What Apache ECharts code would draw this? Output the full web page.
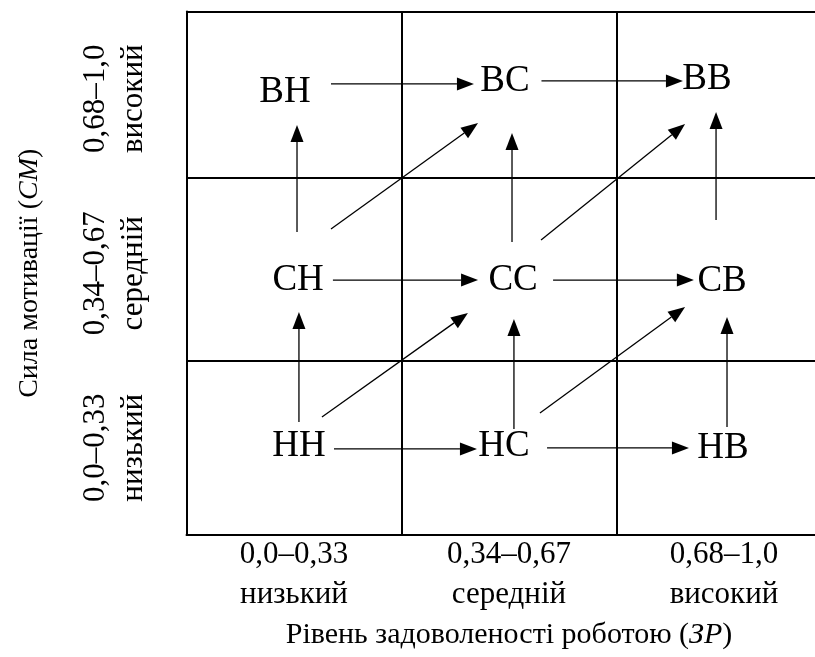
<!DOCTYPE html>
<html>
<head>
<meta charset="utf-8">
<script src="https://cdn.jsdelivr.net/npm/echarts@6/dist/echarts.min.js"></script>
<style>
html,body{margin:0;padding:0;background:#fff;}
#chart{width:815px;height:657px;}
</style>
</head>
<body>
<div id="chart"></div>
<script>
// Axis tick labels
const xRanges = ['0,0–0,33', '0,34–0,67', '0,68–1,0'];
const xLevels = ['низький', 'середній', 'високий'];
const yRanges = ['0,0–0,33', '0,34–0,67', '0,68–1,0'];
const yLevels = ['низький', 'середній', 'високий'];
const xTitle = 'Рівень задоволеності роботою';
const xTitleVar = 'ЗР';
const yTitle = 'Сила мотивації';
const yTitleVar = 'СМ';

// Upper edges of the three rows, in axis units (rows in the picture are not quite equal)
const rowEdges = [1.005, 2.048, 3];

// States (cell labels), positions in axis units (0..3)
const stateNames = ['ВН', 'ВС', 'ВВ', 'СН', 'СС', 'СВ', 'НН', 'НС', 'НВ'];
const stateX = [0.458, 1.481, 2.421, 0.519, 1.519, 2.491, 0.523, 1.477, 2.495];
const stateY = [2.539, 2.602, 2.613, 1.461, 1.461, 1.456, 0.510, 0.510, 0.499];

// Transitions (arrows): start and tip in axis units
const arrowFromX = [0.672, 1.651, 0.514, 0.672, 1.514, 1.649, 2.463, 0.681, 1.705, 0.523, 0.630, 1.523, 1.644, 2.514, 0.686, 1.677];
const arrowFromY = [2.585, 2.602, 1.736, 1.754, 1.679, 1.691, 1.805, 1.461, 1.461, 0.648, 0.676, 0.607, 0.699, 0.619, 0.493, 0.499];
const arrowToX   = [1.337, 2.309, 0.514, 1.356, 1.514, 2.319, 2.463, 1.356, 2.360, 0.523, 1.309, 1.523, 2.319, 2.514, 1.351, 2.337];
const arrowToY   = [2.585, 2.602, 2.350, 2.361, 2.304, 2.355, 2.424, 1.461, 1.461, 1.278, 1.272, 1.238, 1.307, 1.249, 0.493, 0.499];

const FONT = "'Liberation Serif', 'Times New Roman', serif";

const chart = echarts.init(document.getElementById('chart'), null, {renderer: 'canvas'});

const xCats = xRanges.map((r, i) => r + '\n' + xLevels[i]);
const yCats = yRanges.map((r, i) => r + '\n' + yLevels[i]);

const nodeData = stateNames.map((n, i) => [stateX[i], stateY[i], n]);
const arrowData = arrowFromX.map((x, i) => [x, arrowFromY[i], arrowToX[i], arrowToY[i]]);

const gridLine = {color: '#000', width: 2};

chart.setOption({
  backgroundColor: '#fff',
  animation: false,
  grid: {left: 186.5, width: 645, top: 11.5, bottom: 122, outerBoundsMode: 'none', containLabel: false},
  xAxis: [
    {
      type: 'category', data: xCats, position: 'bottom', boundaryGap: true,
      axisLine: {show: true, lineStyle: gridLine},
      axisTick: {show: false},
      splitLine: {show: true, interval: 0, lineStyle: gridLine},
      axisLabel: {interval: 0, color: '#000', fontFamily: FONT, fontSize: 31, lineHeight: 40, margin: 0},
      name: xTitle + ' (' + '{i|' + xTitleVar + '})',
      nameLocation: 'middle', nameGap: 80,
      nameTextStyle: {color: '#000', fontFamily: FONT, fontSize: 30,
        rich: {i: {fontStyle: 'italic', fontFamily: FONT, fontSize: 30, color: '#000'}}}
    },
    {type: 'value', min: 0, max: 3, show: false}
  ],
  yAxis: [
    {
      type: 'category', data: yCats, position: 'left', boundaryGap: true,
      axisLine: {show: true, lineStyle: gridLine},
      axisTick: {show: false},
      splitLine: {show: false},
      axisLabel: {interval: 0, rotate: 90, color: '#000', fontFamily: FONT, fontSize: 31, lineHeight: 38, margin: 34},
      name: yTitle + ' (' + '{i|' + yTitleVar + '})',
      nameLocation: 'middle', nameGap: 143,
      nameTextStyle: {color: '#000', fontFamily: FONT, fontSize: 28,
        rich: {i: {fontStyle: 'italic', fontFamily: FONT, fontSize: 28, color: '#000'}}}
    },
    {type: 'value', min: 0, max: 3, show: false}
  ],
  series: [
    {
      type: 'custom',
      xAxisIndex: 1, yAxisIndex: 1,
      clip: false,
      data: arrowData,
      encode: {x: [0, 2], y: [1, 3]},
      markLine: {
        silent: true, symbol: 'none', animation: false,
        label: {show: false},
        lineStyle: {color: '#000', width: 2, type: 'solid'},
        emphasis: {disabled: true},
        data: rowEdges.map(v => ({yAxis: v}))
      },
      renderItem: function (params, api) {
        const p1 = api.coord([api.value(0), api.value(1)]);
        const p2 = api.coord([api.value(2), api.value(3)]);
        const dx = p2[0] - p1[0], dy = p2[1] - p1[1];
        const len = Math.sqrt(dx * dx + dy * dy);
        const ux = dx / len, uy = dy / len;
        const headLen = 17, headHalf = 6.5;
        const bx = p2[0] - ux * headLen, by = p2[1] - uy * headLen;
        const nx = -uy, ny = ux;
        return {
          type: 'group',
          children: [
            {type: 'line', shape: {x1: p1[0], y1: p1[1], x2: bx, y2: by},
              style: {stroke: '#000', lineWidth: 1.3}},
            {type: 'polygon', shape: {points: [
              [p2[0], p2[1]],
              [bx + nx * headHalf, by + ny * headHalf],
              [bx - nx * headHalf, by - ny * headHalf]
            ]}, style: {fill: '#000'}}
          ]
        };
      }
    },
    {
      type: 'custom',
      xAxisIndex: 1, yAxisIndex: 1,
      clip: false,
      data: nodeData,
      encode: {x: 0, y: 1},
      renderItem: function (params, api) {
        const p = api.coord([api.value(0), api.value(1)]);
        return {
          type: 'text',
          x: p[0], y: p[1],
          style: {text: nodeData[params.dataIndex][2], fill: '#000', font: "37px " + FONT,
            align: 'center', verticalAlign: 'middle'}
        };
      }
    }
  ]
});
</script>
</body>
</html>
